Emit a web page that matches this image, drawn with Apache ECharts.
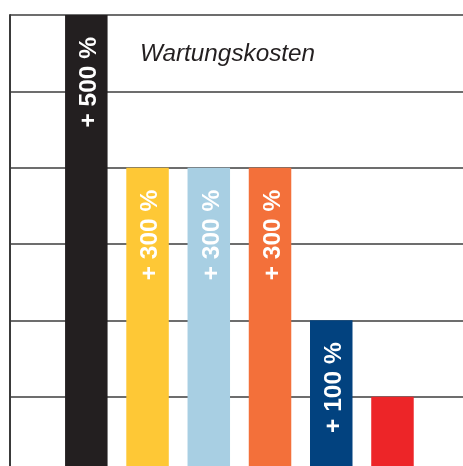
<!DOCTYPE html>
<html>
<head>
<meta charset="utf-8">
<script src="https://cdn.jsdelivr.net/npm/echarts@6/dist/echarts.min.js"></script>
<style>
  html, body { margin: 0; padding: 0; background: #fff; overflow: hidden; }
  /* chart is a bit taller than the window: the baseline sits just below the picture edge */
  #chart { width: 463px; height: 473px; }
</style>
</head>
<body>
<div id="chart"></div>
<script>
// Daten
var categories = ['A', 'B', 'C', 'D', 'E', 'F']
var values = [6, 4, 4, 4, 2, 1]
var labels = ['+ 500 %', '+ 300 %', '+ 300 %', '+ 300 %', '+ 100 %', '']
var colors = ['#231f20', '#fec836', '#a8cfe3', '#f3703a', '#02427f', '#ed2528']
var yTicks = [0, 1, 2, 3, 4, 5, 6]

var myChart = echarts.init(document.getElementById('chart'))
myChart.setOption({
  animation: false,
  title: {
    text: 'Wartungskosten',
    left: 135,
    top: 37,
    textStyle: {
      fontFamily: 'Liberation Sans',
      fontStyle: 'italic',
      fontWeight: 'normal',
      fontSize: 24.3,
      color: '#231f20'
    }
  },
  // grid 0: Raster ueber die volle Breite, grid 1: Balken
  grid: [
    { left: 10, right: 0, top: 15, bottom: 0 },
    { left: 55.7, right: 39.9, top: 15, bottom: 0 }
  ],
  xAxis: [
    { gridIndex: 0, type: 'value', min: 0, max: 1, show: false },
    { gridIndex: 1, type: 'category', data: categories, show: false }
  ],
  yAxis: [
    {
      gridIndex: 0,
      type: 'value',
      min: yTicks[0],
      max: yTicks[yTicks.length - 1],
      interval: 1,
      axisLabel: { show: false },
      axisTick: { show: false },
      axisLine: { show: true, lineStyle: { color: '#3a3a3a', width: 2 } },
      splitLine: { show: true, lineStyle: { color: '#3c3c3c', width: 1.6 } }
    },
    {
      gridIndex: 1,
      type: 'value',
      min: yTicks[0],
      max: yTicks[yTicks.length - 1],
      show: false,
      splitLine: { show: false }
    }
  ],
  series: [
    {
      type: 'bar',
      xAxisIndex: 1,
      yAxisIndex: 1,
      barWidth: 42.5,
      data: values.map(function (v, i) {
        return { value: v, itemStyle: { color: colors[i] } }
      }),
      label: {
        show: true,
        position: 'insideTop',
        distance: 22,
        rotate: 90,
        align: 'right',
        verticalAlign: 'middle',
        offset: [0, 3],
        color: '#fff',
        fontFamily: 'Liberation Sans',
        fontWeight: 'bold',
        fontSize: 24.5,
        formatter: function (p) {
          return labels[p.dataIndex]
        }
      }
    }
  ]
})
</script>
</body>
</html>
